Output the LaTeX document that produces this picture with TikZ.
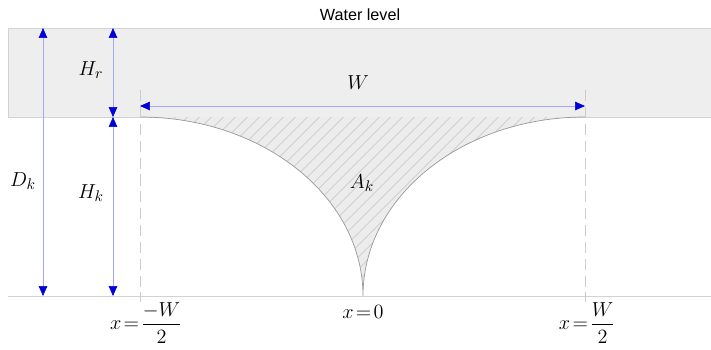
\documentclass[tikz,border=0pt]{standalone}
\usepackage{fontspec}
\newfontfamily\levelfont{Liberation Sans}
\usetikzlibrary{arrows.meta,patterns.meta}

\begin{document}
\begin{tikzpicture}[x=0.025cm, y=-0.025cm,
    % Estilo das faixas e linhas de referencia
        band/.style={fill=gray!13, draw=gray!35, line width=0.4pt},
        ground/.style={draw=gray!35, line width=0.5pt},
        guide/.style={draw=gray!40, line width=0.5pt, dash pattern=on 8pt off 4pt},
    % Estilo das cotas (setas azuis)
        dim/.style={draw=blue!35, line width=0.4pt, {Triangle[length=7pt, width=6pt, blue!85!black]}-{Triangle[length=7pt, width=6pt, blue!85!black]}},
        lbl/.style={font=\fontsize{15}{18}\selectfont, inner sep=0pt},
        curve/.style={draw=gray!80, line width=0.5pt}
    ]
    \useasboundingbox (0,0) rectangle (711,349);

    % --- NIVEL DA AGUA ---
    \fill[band] (8,28) rectangle (711,117);
    \draw[ground] (8,296) -- (711,296);
    \node[font=\levelfont\fontsize{11.5}{13}\selectfont] (level) at (360,15) {Water level};

    % --- AREA A_k ---
    \coordinate (left) at (140,117);
    \coordinate (cusp) at (363,296);
    \coordinate (right) at (585,117);
    \fill[gray!15] (left) .. controls (263,117) and (363,197) .. (cusp)
        .. controls (363,197) and (462,117) .. (right) -- cycle;
    \fill[pattern={Lines[angle=45, distance=6.5pt, line width=0.35pt]}, pattern color=gray!60]
        (left) .. controls (263,117) and (363,197) .. (cusp)
        .. controls (363,197) and (462,117) .. (right) -- cycle;
    \draw[curve] (left) .. controls (263,117) and (363,197) .. (cusp)
        .. controls (363,197) and (462,117) .. (right);
    \node[lbl] (area) at (362,183) {$A_k$};

    % --- LINHAS TRACEJADAS ---
    \coordinate (gl-top) at (140,90);
    \coordinate (gl-bot) at (140,302);
    \coordinate (gr-top) at (585,90);
    \coordinate (gr-bot) at (585,302);
    \draw[guide] (gl-top) -- (gl-bot);
    \draw[guide] (gr-top) -- (gr-bot);

    % --- COTAS ---
    \coordinate (dk-top) at (43,28);
    \coordinate (dk-bot) at (43,296);
    \coordinate (h-top) at (113,28);
    \coordinate (h-mid) at (113,117);
    \coordinate (h-bot) at (113,296);
    \coordinate (w-left) at (140,106);
    \coordinate (w-right) at (585,106);

    \draw[dim] (dk-top) -- (dk-bot);
    \draw[dim] (h-top) -- (h-mid);
    \draw[dim] (h-mid) -- (h-bot);
    \draw[dim] (w-left) -- (w-right);

    \node[lbl] (dk) at (23,181) {$D_k$};
    \node[lbl] (hr) at (91,70) {$H_r$};
    \node[lbl] (hk) at (91,193) {$H_k$};
    \node[lbl] (w) at (358,83) {$W$};

    % --- ABSCISSAS ---
    \node[lbl] (xl) at (146,323) {$x\!=\!\displaystyle\frac{-W}{2}$};
    \node[lbl] (xm) at (363,312) {$x\!=\!0$};
    \node[lbl] (xr) at (587,323) {$x\!=\!\displaystyle\frac{W}{2}$};
\end{tikzpicture}
\end{document}
